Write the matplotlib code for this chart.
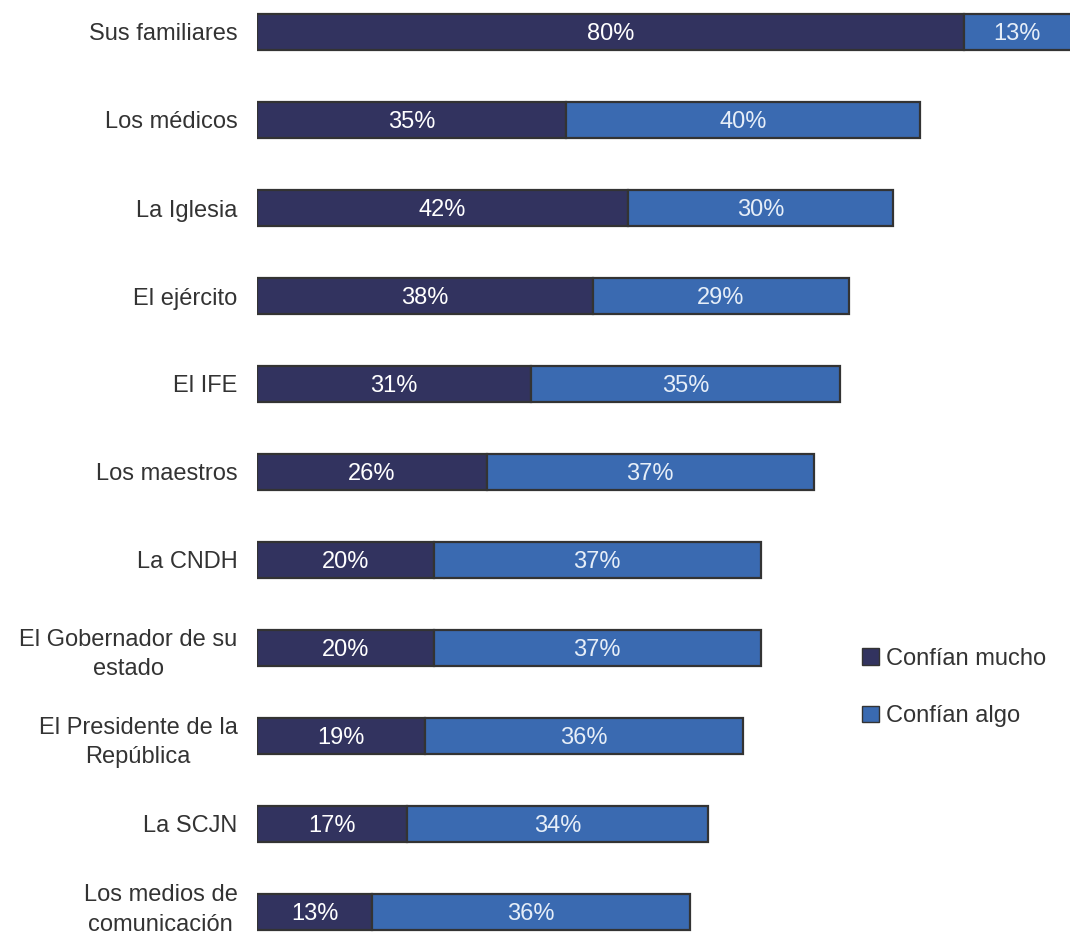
import numpy as np
import matplotlib.pyplot as plt
import matplotlib.transforms as mtransforms
from matplotlib.patches import Patch

categorias = ["Sus familiares", "Los médicos", "La Iglesia", "El ejército", "El IFE",
              "Los maestros", "La CNDH", "El Gobernador de su\nestado",
              "El Presidente de la\nRepública", "La SCJN", "Los medios de\ncomunicación"]
mucho = [80, 35, 42, 38, 31, 26, 20, 20, 19, 17, 13]
algo = [13, 40, 30, 29, 35, 37, 37, 37, 36, 34, 36]
leyenda = ["Confían mucho", "Confían algo"]

c_mucho = "#32335f"
c_algo = "#3a6ab1"
borde = "#333333"

plt.rcParams['font.family'] = ['Liberation Sans', 'DejaVu Sans']

fig = plt.figure(figsize=(10.7, 9.35), dpi=100)
ax = fig.add_axes([257 / 1070, 0, 1 - 257 / 1070, 1])

xmax = 92.0
y = np.arange(len(categorias))
ax.barh(y, mucho, height=0.41, color=c_mucho, edgecolor=borde, linewidth=1.6)
ax.barh(y, algo, left=mucho, height=0.41, color=c_algo, edgecolor=borde, linewidth=1.6)

ax.set_xlim(0, xmax)
ax.set_ylim(10 + 23 / 88, -32 / 88)

for i in range(len(categorias)):
    ax.text(mucho[i] / 2, y[i], f"{mucho[i]}%", ha="center", va="center_baseline",
            color="white", fontsize=17)
    xa = mucho[i] + algo[i] / 2
    if mucho[i] + algo[i] > xmax:
        xa = (mucho[i] + xmax) / 2
    ax.text(xa, y[i], f"{algo[i]}%", ha="center", va="center_baseline",
            color="#e6eef8", fontsize=17)

ax.set_yticks(y)
ax.set_yticklabels(categorias, fontsize=17, color="#333333", multialignment="center",
                   linespacing=1.45)
ax.tick_params(axis="y", length=0, pad=14)
ax.set_xticks([])
for s in ax.spines.values():
    s.set_visible(False)

# subir un poco la ultima etiqueta para que no se corte
ult = ax.get_yticklabels()[-1]
ult.set_transform(ult.get_transform() + mtransforms.ScaledTranslation(0, 6 / 72, fig.dpi_scale_trans))

handles = [Patch(facecolor=c_mucho, edgecolor=borde), Patch(facecolor=c_algo, edgecolor=borde)]
fig.legend(handles, leyenda, loc="upper left", bbox_to_anchor=(0.786, 0.33),
           frameon=False, fontsize=17, handlelength=0.7, handleheight=0.7,
           handletextpad=0.3, labelspacing=1.5, labelcolor="#333333")

fig.savefig("out.png", dpi=100)
